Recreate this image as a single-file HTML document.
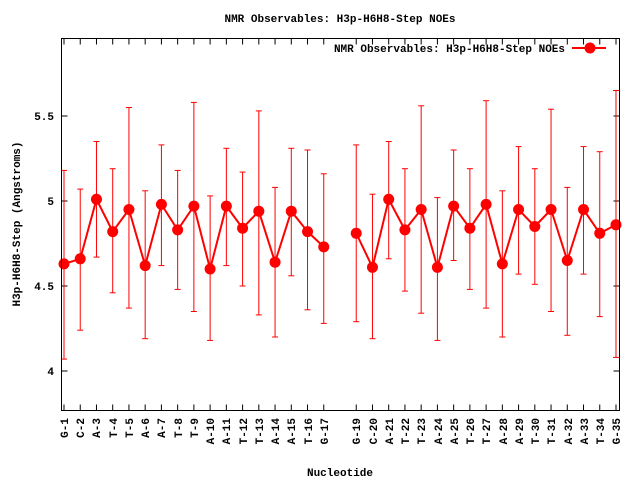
<!DOCTYPE html>
<html><head><meta charset="utf-8"><style>
html,body{margin:0;padding:0;background:#fff;}
svg{display:block;font-family:"Liberation Mono","DejaVu Sans Mono",monospace;font-weight:bold;font-size:11px;}
</style></head><body>
<svg id="s" width="640" height="480" xmlns="http://www.w3.org/2000/svg">
<rect width="640" height="480" fill="#fff"/>
<text x="340" y="22" text-anchor="middle">NMR Observables: H3p-H6H8-Step NOEs</text>
<text x="565" y="52" text-anchor="end">NMR Observables: H3p-H6H8-Step NOEs</text>
<text transform="translate(20,224) rotate(-90)" text-anchor="middle">H3p-H6H8-Step (Angstroms)</text>
<text x="340" y="476" text-anchor="middle">Nucleotide</text>
<text x="54" y="120" text-anchor="end">5.5</text>
<text x="54" y="205" text-anchor="end">5</text>
<text x="54" y="290" text-anchor="end">4.5</text>
<text x="54" y="375" text-anchor="end">4</text>
<g id="lbl">
<text transform="translate(68,418) rotate(-90)" text-anchor="end">G-1</text>
<text transform="translate(84,418) rotate(-90)" text-anchor="end">C-2</text>
<text transform="translate(100,418) rotate(-90)" text-anchor="end">A-3</text>
<text transform="translate(117,418) rotate(-90)" text-anchor="end">T-4</text>
<text transform="translate(133,418) rotate(-90)" text-anchor="end">T-5</text>
<text transform="translate(149,418) rotate(-90)" text-anchor="end">A-6</text>
<text transform="translate(165,418) rotate(-90)" text-anchor="end">A-7</text>
<text transform="translate(182,418) rotate(-90)" text-anchor="end">T-8</text>
<text transform="translate(198,418) rotate(-90)" text-anchor="end">T-9</text>
<text transform="translate(214,418) rotate(-90)" text-anchor="end">A-10</text>
<text transform="translate(230,418) rotate(-90)" text-anchor="end">A-11</text>
<text transform="translate(247,418) rotate(-90)" text-anchor="end">T-12</text>
<text transform="translate(263,418) rotate(-90)" text-anchor="end">T-13</text>
<text transform="translate(279,418) rotate(-90)" text-anchor="end">A-14</text>
<text transform="translate(295,418) rotate(-90)" text-anchor="end">A-15</text>
<text transform="translate(312,418) rotate(-90)" text-anchor="end">T-16</text>
<text transform="translate(328,418) rotate(-90)" text-anchor="end">G-17</text>
<text transform="translate(360,418) rotate(-90)" text-anchor="end">G-19</text>
<text transform="translate(377,418) rotate(-90)" text-anchor="end">C-20</text>
<text transform="translate(393,418) rotate(-90)" text-anchor="end">A-21</text>
<text transform="translate(409,418) rotate(-90)" text-anchor="end">T-22</text>
<text transform="translate(425,418) rotate(-90)" text-anchor="end">T-23</text>
<text transform="translate(442,418) rotate(-90)" text-anchor="end">A-24</text>
<text transform="translate(458,418) rotate(-90)" text-anchor="end">A-25</text>
<text transform="translate(474,418) rotate(-90)" text-anchor="end">T-26</text>
<text transform="translate(490,418) rotate(-90)" text-anchor="end">T-27</text>
<text transform="translate(507,418) rotate(-90)" text-anchor="end">A-28</text>
<text transform="translate(523,418) rotate(-90)" text-anchor="end">A-29</text>
<text transform="translate(539,418) rotate(-90)" text-anchor="end">T-30</text>
<text transform="translate(555,418) rotate(-90)" text-anchor="end">T-31</text>
<text transform="translate(572,418) rotate(-90)" text-anchor="end">A-32</text>
<text transform="translate(588,418) rotate(-90)" text-anchor="end">A-33</text>
<text transform="translate(604,418) rotate(-90)" text-anchor="end">T-34</text>
<text transform="translate(620,418) rotate(-90)" text-anchor="end">G-35</text>
</g>
<g id="g"></g>
</svg>
<script>
var d=[[1,4.63,5.18,4.07],[2,4.66,5.07,4.24],[3,5.01,5.35,4.67],[4,4.82,5.19,4.46],[5,4.95,5.55,4.37],[6,4.62,5.06,4.19],[7,4.98,5.33,4.62],[8,4.83,5.18,4.48],[9,4.97,5.58,4.35],[10,4.60,5.03,4.18],[11,4.97,5.31,4.62],[12,4.84,5.17,4.50],[13,4.94,5.53,4.33],[14,4.64,5.08,4.20],[15,4.94,5.31,4.56],[16,4.82,5.30,4.36],[17,4.73,5.16,4.28],[19,4.81,5.33,4.29],[20,4.61,5.04,4.19],[21,5.01,5.35,4.66],[22,4.83,5.19,4.47],[23,4.95,5.56,4.34],[24,4.61,5.02,4.18],[25,4.97,5.30,4.65],[26,4.84,5.19,4.48],[27,4.98,5.59,4.37],[28,4.63,5.06,4.20],[29,4.95,5.32,4.57],[30,4.85,5.19,4.51],[31,4.95,5.54,4.35],[32,4.65,5.08,4.21],[33,4.95,5.32,4.57],[34,4.81,5.29,4.32],[35,4.86,5.65,4.08]];
function X(i){return 64+(i-1)*16.235;}function Y(v){return 201-(v-5)*170;}
var s='';var L=61.5,R=619.5,T=38.5,B=410.5;
[5.5,5,4.5,4].forEach(function(v){var y=Y(v);s+='<line x1="'+L+'" x2="'+(L+6)+'" y1="'+y+'" y2="'+y+'" stroke="#000"/><line x1="'+R+'" x2="'+(R-6)+'" y1="'+y+'" y2="'+y+'" stroke="#000"/>';});
for(var i=1;i<=35;i++){if(i==18)continue;var x=X(i);s+='<line x1="'+x+'" x2="'+x+'" y1="'+B+'" y2="'+(B-6)+'" stroke="#000"/><line x1="'+x+'" x2="'+x+'" y1="'+T+'" y2="'+(T+6)+'" stroke="#000"/>';}
d.forEach(function(p){var x=X(p[0]);s+='<line x1="'+x+'" x2="'+x+'" y1="'+Y(p[2])+'" y2="'+Y(p[3])+'" stroke="#f00"/><line x1="'+(x-3)+'" x2="'+(x+3)+'" y1="'+Y(p[2])+'" y2="'+Y(p[2])+'" stroke="#f00"/><line x1="'+(x-3)+'" x2="'+(x+3)+'" y1="'+Y(p[3])+'" y2="'+Y(p[3])+'" stroke="#f00"/>';});
function pl(a){return '<polyline fill="none" stroke="#f00" stroke-width="2" points="'+a.map(function(p){return X(p[0])+','+Y(p[1])}).join(' ')+'"/>';}
s+=pl(d.slice(0,17))+pl(d.slice(17));
d.forEach(function(p){s+='<circle cx="'+X(p[0])+'" cy="'+Y(p[1])+'" r="5.5" fill="#f00"/>';});
s+='<line x1="572" x2="606" y1="48" y2="48" stroke="#f00" stroke-width="2"/><circle cx="590" cy="48" r="5.5" fill="#f00"/>';
s+='<rect x="'+L+'" y="'+T+'" width="'+(R-L)+'" height="'+(B-T)+'" fill="none" stroke="#000"/>';
document.getElementById('g').innerHTML=s;
</script>
</body></html>
